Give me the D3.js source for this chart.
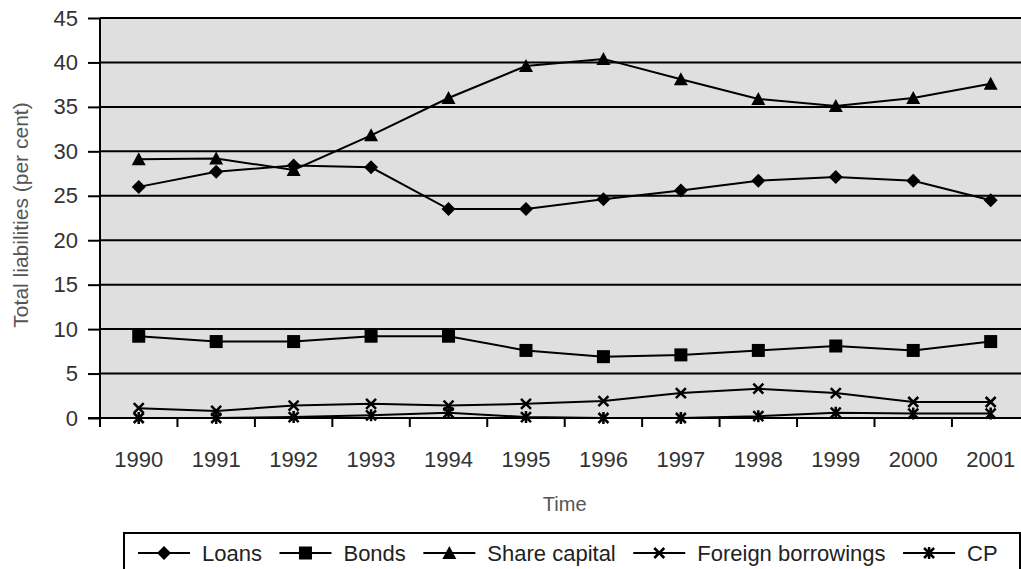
<!DOCTYPE html>
<html>
<head>
<meta charset="utf-8">
<script src="https://cdnjs.cloudflare.com/ajax/libs/d3/7.8.5/d3.min.js"></script>
<style>
  body { margin: 0; background: #fff; }
  svg text { font-family: "Liberation Sans", Arial, sans-serif; }
</style>
</head>
<body>
<div id="chart"></div>
<script>
// values (per cent of total liabilities)
var years = ["1990","1991","1992","1993","1994","1995","1996","1997","1998","1999","2000","2001"];
var loans   = [26.0, 27.7, 28.4, 28.2, 23.5, 23.5, 24.6, 25.6, 26.7, 27.1, 26.7, 24.5];
var bonds   = [9.2, 8.6, 8.6, 9.2, 9.2, 7.6, 6.9, 7.1, 7.6, 8.1, 7.6, 8.6];
var shareCapital = [29.1, 29.2, 27.9, 31.8, 36.0, 39.6, 40.4, 38.1, 35.9, 35.1, 36.0, 37.6];
var foreignBorrowings = [1.1, 0.8, 1.4, 1.6, 1.4, 1.6, 1.9, 2.8, 3.3, 2.8, 1.8, 1.8];
var cp      = [0.0, 0.0, 0.1, 0.3, 0.6, 0.1, 0.0, 0.0, 0.2, 0.6, 0.5, 0.5];
var yTicks  = [0, 5, 10, 15, 20, 25, 30, 35, 40, 45];

var series = [
  { name: "Loans", values: loans, marker: "diamond" },
  { name: "Bonds", values: bonds, marker: "square" },
  { name: "Share capital", values: shareCapital, marker: "triangle" },
  { name: "Foreign borrowings", values: foreignBorrowings, marker: "cross" },
  { name: "CP", values: cp, marker: "star" }
];

var W = 1021, H = 569;
var plotLeft = 100, plotTop = 18, plotBottom = 418;
var band = 77.45;
var plotRight = plotLeft + band * years.length;

var svg = d3.select("#chart").append("svg")
  .attr("width", W).attr("height", H);

var x = d3.scaleBand().domain(years).range([plotLeft, plotRight]).padding(0);
var y = d3.scaleLinear().domain([0, 45]).range([plotBottom, plotTop]);

// plot background
svg.append("rect")
  .attr("x", plotLeft).attr("y", plotTop)
  .attr("width", plotRight - plotLeft).attr("height", plotBottom - plotTop)
  .attr("fill", "#dfdfdf");

// gridlines
svg.append("g").selectAll("line").data(yTicks.filter(function (d) { return d > 0; }))
  .enter().append("line")
    .attr("x1", plotLeft).attr("x2", plotRight)
    .attr("y1", function (d) { return y(d); }).attr("y2", function (d) { return y(d); })
    .attr("stroke", "#000").attr("stroke-width", 2);

// y axis
var yAxis = svg.append("g").attr("transform", "translate(" + plotLeft + ",0)")
  .call(d3.axisLeft(y).tickValues(yTicks).tickSize(12).tickPadding(10));
yAxis.select(".domain").remove();
yAxis.selectAll(".tick line").attr("stroke", "#000").attr("stroke-width", 2);
yAxis.selectAll(".tick text").attr("font-size", "22px").attr("fill", "#333")
  .attr("font-family", "Liberation Sans, Arial, sans-serif");
svg.append("line").attr("x1", plotLeft).attr("x2", plotLeft).attr("y1", plotTop).attr("y2", plotBottom + 9)
  .attr("stroke", "#000").attr("stroke-width", 2);

// x axis
svg.append("line").attr("x1", plotLeft - 12).attr("x2", plotRight)
  .attr("y1", plotBottom).attr("y2", plotBottom).attr("stroke", "#000").attr("stroke-width", 2);
svg.append("g").selectAll("line").data(d3.range(years.length + 1))
  .enter().append("line")
    .attr("x1", function (i) { return plotLeft + i * band; })
    .attr("x2", function (i) { return plotLeft + i * band; })
    .attr("y1", plotBottom).attr("y2", plotBottom + 9)
    .attr("stroke", "#000").attr("stroke-width", 2);
svg.append("g").selectAll("text").data(years)
  .enter().append("text")
    .attr("x", function (d) { return x(d) + x.bandwidth() / 2; })
    .attr("y", 467)
    .attr("text-anchor", "middle")
    .attr("font-size", "22px").attr("fill", "#333")
    .text(function (d) { return d; });

// axis titles
svg.append("text")
  .attr("x", (plotLeft + plotRight) / 2).attr("y", 511)
  .attr("text-anchor", "middle").attr("font-size", "20px").attr("fill", "#555")
  .text("Time");
svg.append("text")
  .attr("transform", "translate(28,215) rotate(-90)")
  .attr("text-anchor", "middle").attr("font-size", "21px").attr("fill", "#555")
  .text("Total liabilities (per cent)");

// marker drawing
function drawMarker(g, type, cx, cy) {
  if (type === "diamond") {
    g.append("path").attr("d", "M" + cx + "," + (cy - 7) + "L" + (cx + 7) + "," + cy + "L" + cx + "," + (cy + 7) + "L" + (cx - 7) + "," + cy + "Z")
      .attr("fill", "#000");
  } else if (type === "square") {
    g.append("rect").attr("x", cx - 6.5).attr("y", cy - 6.5).attr("width", 13).attr("height", 13).attr("fill", "#000");
  } else if (type === "triangle") {
    g.append("path").attr("d", "M" + cx + "," + (cy - 7) + "L" + (cx + 7) + "," + (cy + 6) + "L" + (cx - 7) + "," + (cy + 6) + "Z")
      .attr("fill", "#000");
  } else if (type === "cross") {
    g.append("path").attr("d", "M" + (cx - 5) + "," + (cy - 5) + "L" + (cx + 5) + "," + (cy + 5) + "M" + (cx + 5) + "," + (cy - 5) + "L" + (cx - 5) + "," + (cy + 5))
      .attr("stroke", "#000").attr("stroke-width", 2.5);
  } else if (type === "star") {
    g.append("path").attr("d", "M" + (cx - 5) + "," + (cy - 5) + "L" + (cx + 5) + "," + (cy + 5) + "M" + (cx + 5) + "," + (cy - 5) + "L" + (cx - 5) + "," + (cy + 5) + "M" + cx + "," + (cy - 6) + "L" + cx + "," + (cy + 6))
      .attr("stroke", "#000").attr("stroke-width", 2.5);
  }
}

var line = d3.line()
  .x(function (d, i) { return x(years[i]) + x.bandwidth() / 2; })
  .y(function (d) { return y(d); });

series.forEach(function (s) {
  var g = svg.append("g");
  g.append("path").datum(s.values)
    .attr("d", line).attr("fill", "none")
    .attr("stroke", "#000").attr("stroke-width", 2);
  s.values.forEach(function (v, i) {
    drawMarker(g, s.marker, x(years[i]) + x.bandwidth() / 2, y(v));
  });
});

// legend
var legend = svg.append("g");
legend.append("rect")
  .attr("x", 124).attr("y", 533).attr("width", 896).attr("height", 60)
  .attr("fill", "#fff").attr("stroke", "#000").attr("stroke-width", 2);
var lx = 138, ly = 553;
series.forEach(function (s) {
  legend.append("line").attr("x1", lx).attr("x2", lx + 52)
    .attr("y1", ly).attr("y2", ly).attr("stroke", "#000").attr("stroke-width", 2);
  drawMarker(legend, s.marker, lx + 26, ly);
  var t = legend.append("text").attr("x", lx + 64).attr("y", ly + 8)
    .attr("font-size", "22px").attr("fill", "#222").text(s.name);
  lx = lx + 64 + t.node().getComputedTextLength() + 17.5;
});
</script>
</body>
</html>
